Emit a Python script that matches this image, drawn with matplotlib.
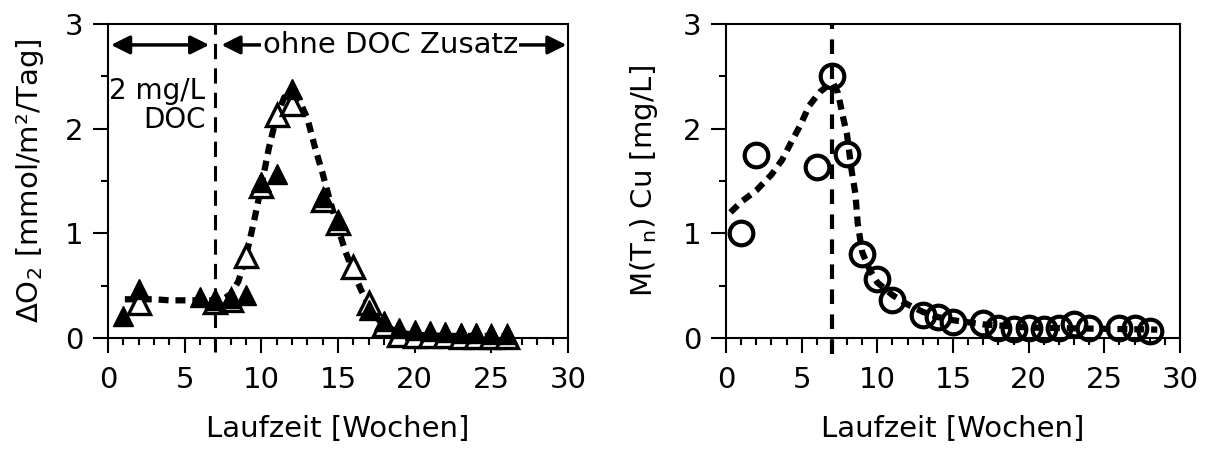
import numpy as np
import matplotlib
matplotlib.use("Agg")
import matplotlib.pyplot as plt
from matplotlib.ticker import MultipleLocator

plt.rcParams['font.family'] = ['DejaVu Sans']
plt.rcParams['mathtext.fontset'] = 'dejavusans'

# --- data ---
o2_filled_weeks = [1, 2, 6, 7, 8, 9, 10, 11, 12, 14, 15, 17, 18, 19, 20, 21, 22, 23, 24, 25, 26]
o2_filled = [0.21, 0.47, 0.39, 0.36, 0.38, 0.41, 1.49, 1.57, 2.38, 1.35, 1.13, 0.27, 0.16,
             0.10, 0.08, 0.07, 0.06, 0.05, 0.05, 0.04, 0.04]

o2_open_weeks = [2, 7, 8, 9, 10, 11, 12, 14, 15, 16, 17, 18, 19, 20, 21, 22, 23, 24, 25, 26]
o2_open = [0.33, 0.34, 0.36, 0.78, 1.45, 2.13, 2.24, 1.32, 1.10, 0.68, 0.33, 0.12,
           0.03, 0.02, 0.02, 0.02, 0.01, 0.01, 0.01, 0.01]

o2_fit_weeks = [1.1, 2, 3, 4, 5, 6, 7, 7.5, 8, 8.5, 9, 9.5, 10, 10.5, 11, 11.5, 12, 12.5,
                13, 13.5, 14, 14.5, 15, 15.5, 16, 16.5, 17, 17.5, 18, 19, 20, 22, 24, 26.5]
o2_fit = [0.37, 0.37, 0.37, 0.36, 0.36, 0.36, 0.36, 0.37, 0.42, 0.54, 0.78, 1.10, 1.45, 1.82,
          2.12, 2.30, 2.33, 2.26, 2.10, 1.82, 1.57, 1.30, 1.05, 0.82, 0.63, 0.46, 0.32, 0.20,
          0.12, 0.05, 0.03, 0.02, 0.02, 0.02]

cu_weeks = [1, 2, 6, 7, 8, 9, 10, 11, 13, 14, 15, 17, 18, 19, 20, 21, 22, 23, 24, 26, 27, 28]
cu = [1.0, 1.75, 1.63, 2.5, 1.76, 0.8, 0.56, 0.36, 0.22, 0.2, 0.15, 0.14, 0.1, 0.09, 0.1,
      0.09, 0.1, 0.13, 0.1, 0.1, 0.1, 0.07]

cu_fit_weeks = [0.3, 1, 2, 3, 3.7, 4.2, 4.9, 5.5, 6.2, 6.8, 7.1, 7.4, 7.75, 8.0, 8.3, 8.55,
                8.7, 9, 9.5, 10, 11, 12, 13, 14, 15, 17, 20, 24, 28.5]
cu_fit = [1.2, 1.3, 1.41, 1.56, 1.7, 1.84, 2.03, 2.22, 2.35, 2.42, 2.43, 2.34, 2.1, 1.94, 1.6,
          1.38, 1.1, 0.82, 0.65, 0.53, 0.41, 0.32, 0.25, 0.2, 0.17, 0.13, 0.1, 0.09, 0.08]

doc_switch = 7  # week where DOC dosing stopped
fs = 21

fig = plt.figure(figsize=(12.12, 4.5), dpi=100)
ax1 = fig.add_axes([108 / 1212, 112 / 450, 460 / 1212, 314 / 450])
ax2 = fig.add_axes([726 / 1212, 112 / 450, 454 / 1212, 314 / 450])


def style(ax):
    ax.set_xlim(0, 30)
    ax.set_ylim(0, 3)
    ax.xaxis.set_major_locator(MultipleLocator(5))
    ax.xaxis.set_minor_locator(MultipleLocator(1))
    ax.yaxis.set_major_locator(MultipleLocator(1))
    ax.yaxis.set_minor_locator(MultipleLocator(0.5))
    ax.tick_params(which='major', direction='out', length=10.5, width=1.5,
                   labelsize=fs, top=False, right=False)
    ax.tick_params(axis='x', which='major', pad=10)
    ax.tick_params(axis='y', which='major', pad=7)
    ax.tick_params(which='minor', direction='out', length=5, width=1.5,
                   top=False, right=False)
    for s in ax.spines.values():
        s.set_linewidth(1.5)
    ax.set_xlabel("Laufzeit [Wochen]", fontsize=fs)
    ax.xaxis.set_label_coords(0.5, -0.245)


# --- left panel ---
style(ax1)
ax1.plot(o2_fit_weeks, o2_fit, color='k', lw=4.5, dashes=(1.6, 1.1), zorder=2)
ax1.plot(o2_open_weeks, o2_open, ls='none', marker='^', ms=16, mfc='white', mec='k',
         mew=2.4, clip_on=False, zorder=3)
ax1.plot(o2_filled_weeks, o2_filled, ls='none', marker='^', ms=15, mfc='k', mec='k',
         mew=1, clip_on=False, zorder=4)
ax1.axvline(doc_switch, ymin=-0.045, ymax=1, color='k', lw=2.2, dashes=(5, 3), clip_on=False)

arrow = dict(arrowstyle='<|-|>', lw=2.5, color='k', mutation_scale=28, shrinkA=0, shrinkB=0)
ax1.annotate('', xy=(0.2, 2.8), xytext=(6.6, 2.8), arrowprops=arrow)
ax1.annotate('', xy=(7.4, 2.8), xytext=(29.9, 2.8), arrowprops=arrow)
ax1.text(18.4, 2.8, "ohne DOC Zusatz", fontsize=fs, ha='center', va='center',
         bbox=dict(facecolor='white', edgecolor='none', pad=1))
ax1.text(6.35, 2.22, "2 mg/L\nDOC", fontsize=20, ha='right', va='center',
         multialignment='right', linespacing=1.05)
ax1.set_ylabel(r"$\Delta$O$_2$ [mmol/m²/Tag]", fontsize=fs)
ax1.yaxis.set_label_coords(-0.135, 0.5)

# --- right panel ---
style(ax2)
ax2.plot(cu_fit_weeks, cu_fit, color='k', lw=4.5, dashes=(1.6, 1.1), zorder=2)
ax2.plot(cu_weeks, cu, ls='none', marker='o', ms=17, mfc='none', mec='k', mew=3,
         clip_on=False, zorder=3)
ax2.axvline(doc_switch, ymin=-0.05, ymax=1, color='k', lw=3, dashes=(3.5, 2.5), clip_on=False)
ax2.set_ylabel(r"M(T$_\mathrm{n}$) Cu [mg/L]", fontsize=fs)
ax2.yaxis.set_label_coords(-0.145, 0.5)

fig.savefig("out.png", dpi=100)
plt.close(fig)
